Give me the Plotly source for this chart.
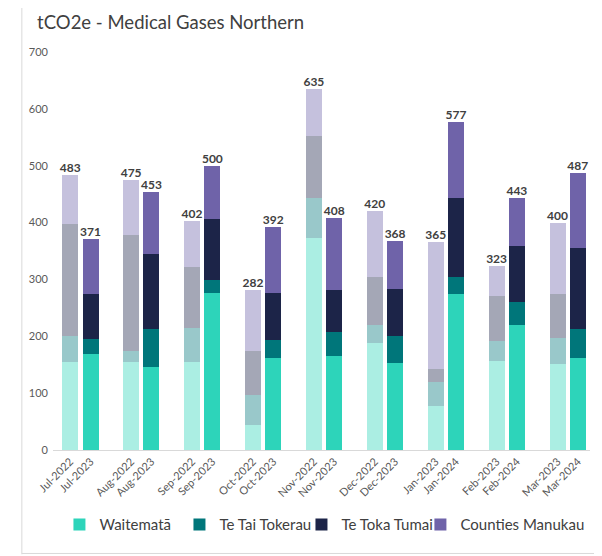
import plotly.graph_objects as go

prior_months = ["Jul-2022", "Aug-2022", "Sep-2022", "Oct-2022", "Nov-2022",
                "Dec-2022", "Jan-2023", "Feb-2023", "Mar-2023"]
current_months = ["Jul-2023", "Aug-2023", "Sep-2023", "Oct-2023", "Nov-2023",
                  "Dec-2023", "Jan-2024", "Feb-2024", "Mar-2024"]

series_names = ["Waitematā", "Te Tai Tokerau", "Te Toka Tumai", "Counties Manukau"]

waitemata_prior = [155, 155, 155, 44, 373, 189, 78, 156, 152]
tai_tokerau_prior = [46, 20, 60, 53, 70, 30, 41, 35, 45]
toka_tumai_prior = [197, 203, 107, 78, 109, 85, 23, 79, 78]
counties_prior = [85, 97, 80, 107, 83, 116, 223, 53, 125]

waitemata_current = [168, 146, 277, 162, 166, 153, 275, 219, 162]
tai_tokerau_current = [28, 67, 22, 32, 41, 48, 30, 41, 50]
toka_tumai_current = [79, 132, 108, 83, 75, 82, 139, 98, 144]
counties_current = [96, 108, 93, 115, 126, 85, 133, 85, 131]

colors = ["#2DD4BA", "#00767A", "#1C2448", "#6F63A9"]
font = "Lato, sans-serif"

# category order: pair of bars per month, then an empty slot
categories = []
for i in range(len(prior_months)):
    categories += [prior_months[i], current_months[i]]
    if i < len(prior_months) - 1:
        categories.append(" " * (i + 1))

prior = [waitemata_prior, tai_tokerau_prior, toka_tumai_prior, counties_prior]
current = [waitemata_current, tai_tokerau_current, toka_tumai_current, counties_current]

fig = go.Figure()

for name, vals, col in zip(series_names, prior, colors):
    fig.add_trace(go.Bar(x=prior_months, y=vals, name=name, showlegend=False,
                         marker=dict(color=col, opacity=0.4, line=dict(width=0))))

# one legend per entry so each one sits where the original has it
legend_ids = ["legend", "legend2", "legend3", "legend4"]
for name, vals, col, lg in zip(series_names, current, colors, legend_ids):
    fig.add_trace(go.Bar(x=current_months, y=vals, name=name, legend=lg,
                         marker=dict(color=col, line=dict(width=0))))

prior_tot = [sum(v) for v in zip(*prior)]
current_tot = [sum(v) for v in zip(*current)]
fig.add_trace(go.Scatter(x=prior_months + current_months, y=prior_tot + current_tot,
                         mode="text", text=[str(t) for t in prior_tot + current_tot],
                         textposition="top center", showlegend=False, cliponaxis=False,
                         textfont=dict(family=font, size=12, color="#404040", weight="bold")))

# frame lines around the chart
fig.add_shape(type="line", xref="paper", yref="paper", x0=-0.058, x1=-0.058, y0=-0.262, y1=1.12,
              line=dict(color="#d9d9d9", width=1))
fig.add_shape(type="line", xref="paper", yref="paper", x0=-0.058, x1=1.03, y0=-0.26, y1=-0.26,
              line=dict(color="#d9d9d9", width=1))

fig.update_layout(
    width=594, height=548,
    barmode="stack", bargap=0.21,
    plot_bgcolor="white", paper_bgcolor="white",
    margin=dict(l=45, r=12, t=44, b=106),
    font=dict(family=font, color="#595959"),
    title=dict(text="tCO2e - Medical Gases Northern", x=0.049, xanchor="left",
               y=0.974, yanchor="middle", font=dict(size=18.5, color="#404040", family=font)),
    xaxis=dict(type="category", categoryorder="array", categoryarray=categories,
               range=[-0.85, 25.6], tickangle=-45, showline=True, linecolor="#d9d9d9",
               ticks="", tickfont=dict(size=11, color="#595959"), showgrid=False),
    yaxis=dict(range=[0, 700], dtick=100, showgrid=False, zeroline=False, showline=False,
               tickfont=dict(size=11, color="#595959"), ticklabelstandoff=4),
)

legend_x = [0.012, 0.2355, 0.4627, 0.6842]
for lg, lx in zip(legend_ids, legend_x):
    fig.update_layout({lg: dict(orientation="h", x=lx, xanchor="left", y=-0.188, yanchor="middle",
                                bgcolor="rgba(0,0,0,0)", itemwidth=30,
                                font=dict(size=15, color="#404040"))})

fig.write_html("out.html")
